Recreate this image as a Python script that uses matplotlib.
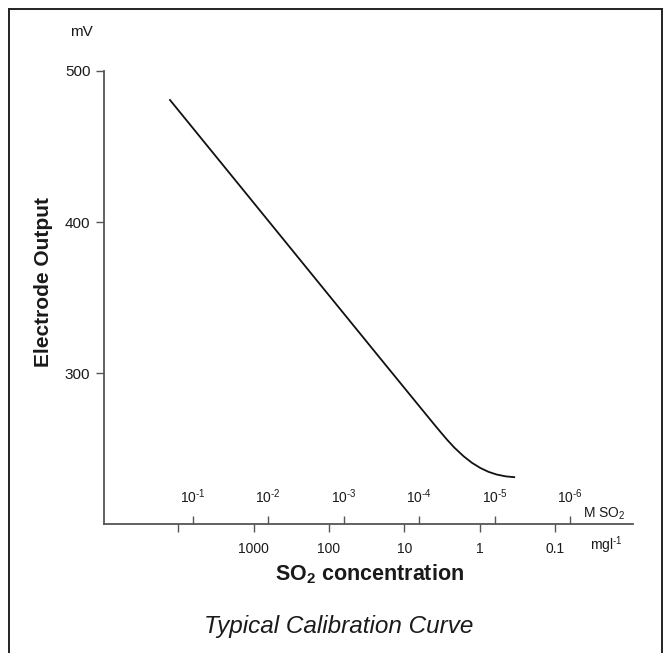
import numpy as np
import matplotlib
matplotlib.use("Agg")
import matplotlib.pyplot as plt
from matplotlib.lines import Line2D

plt.rcParams["font.family"] = ["Liberation Sans", "DejaVu Sans"]
plt.rcParams["mathtext.fontset"] = "custom"
plt.rcParams["mathtext.rm"] = "Liberation Sans"
plt.rcParams["mathtext.it"] = "Liberation Sans:italic"
plt.rcParams["mathtext.bf"] = "Liberation Sans:bold"
plt.rcParams["mathtext.default"] = "regular"

# calibration curve: x = -log10(M SO2), y = mV
neg_log_conc = [0.70, 1.5, 2.5, 3.5, 4.0, 4.1, 4.19, 4.28, 4.37, 4.47, 4.59,
                4.70, 4.81, 4.92, 5.03, 5.15, 5.26]
output_mv = [480.8, 431.7, 370.3, 308.9, 278.3, 272.2, 266.7, 261.3, 256.0, 250.6, 245.0,
             240.7, 237.3, 234.7, 232.9, 231.7, 231.2]

# axis scales
molar_exp = [1, 2, 3, 4, 5, 6]
mg_per_l = [10000, 1000, 100, 10, 1, 0.1]
mg_labels = ["", "1000", "100", "10", "1", "0.1"]
mv_ticks = [300, 400, 500]
so2_mg_per_mol = 64000

text_col = "#1a1a1a"
axis_col = "#555555"

fig = plt.figure(figsize=(6.63, 6.53), dpi=100)
ax = fig.add_axes([0.1569, 0.1971, 0.7979, 0.6942])

ax.plot(neg_log_conc, output_mv, color="#111111", lw=1.3)

ax.set_xlim(-0.174, 6.834)
ax.set_ylim(200, 500)

for side in ["top", "right"]:
    ax.spines[side].set_visible(False)
for side in ["left", "bottom"]:
    ax.spines[side].set_color(axis_col)
    ax.spines[side].set_linewidth(1.3)

# mV axis
ax.set_yticks(mv_ticks)
ax.tick_params(axis="y", direction="out", length=5.8, width=1.0, color=axis_col,
               labelsize=11, labelcolor=text_col, pad=4)

# mg/l ticks below the axis
mg_x = np.log10(so2_mg_per_mol / np.array(mg_per_l))
ax.set_xticks(mg_x, mg_labels)
ax.tick_params(axis="x", direction="out", length=5.5, width=1.0, color=axis_col,
               labelsize=10, labelcolor=text_col, pad=7)

# molar ticks above the axis
secax = ax.secondary_xaxis(0)
secax.set_xticks(molar_exp, [f"10$^{{\\text{{-}}{k}}}$" for k in molar_exp])
secax.tick_params(axis="x", bottom=False, top=True, labelbottom=False, labeltop=True,
                  direction="out", length=5.5, width=1.0, color=axis_col,
                  labelsize=10, labelcolor=text_col, pad=8)
for s in secax.spines.values():
    s.set_visible(False)

ax.text(0.9055, 0.0139, "M SO$_2$", transform=ax.transAxes, fontsize=10,
        color=text_col, va="baseline", ha="left")
ax.text(0.9187, -0.0567, "mgl$^{\\text{-}1}$", transform=ax.transAxes, fontsize=10,
        color=text_col, va="baseline", ha="left")
ax.text(-0.0435, 1.086, "mV", transform=ax.transAxes, fontsize=11,
        color=text_col, va="center", ha="center")

ax.set_ylabel("Electrode Output", fontsize=15, fontweight="bold", color=text_col,
              va="center")
ax.yaxis.set_label_coords(-0.1144, 0.5345)
ax.set_xlabel("SO$_\\mathbf{2}$ concentration", fontsize=15.5, fontweight="bold",
              color=text_col, va="center")
ax.xaxis.set_label_coords(0.501, -0.1096)

fig.text(339 / 663, 1 - 627 / 653, "Typical Calibration Curve", fontsize=17.5,
         style="italic", color=text_col, ha="center", va="center")

# frame around the figure (open at the bottom)
W, H = 663, 653
frame = dict(color="#222222", lw=1.4, transform=fig.transFigure)
fig.add_artist(Line2D([9 / W, 9 / W], [0, 1 - 9 / H], **frame))
fig.add_artist(Line2D([9 / W, 662 / W], [1 - 9 / H, 1 - 9 / H], **frame))
fig.add_artist(Line2D([662 / W, 662 / W], [0, 1 - 9 / H], **frame))

fig.savefig("out.png", dpi=100)
